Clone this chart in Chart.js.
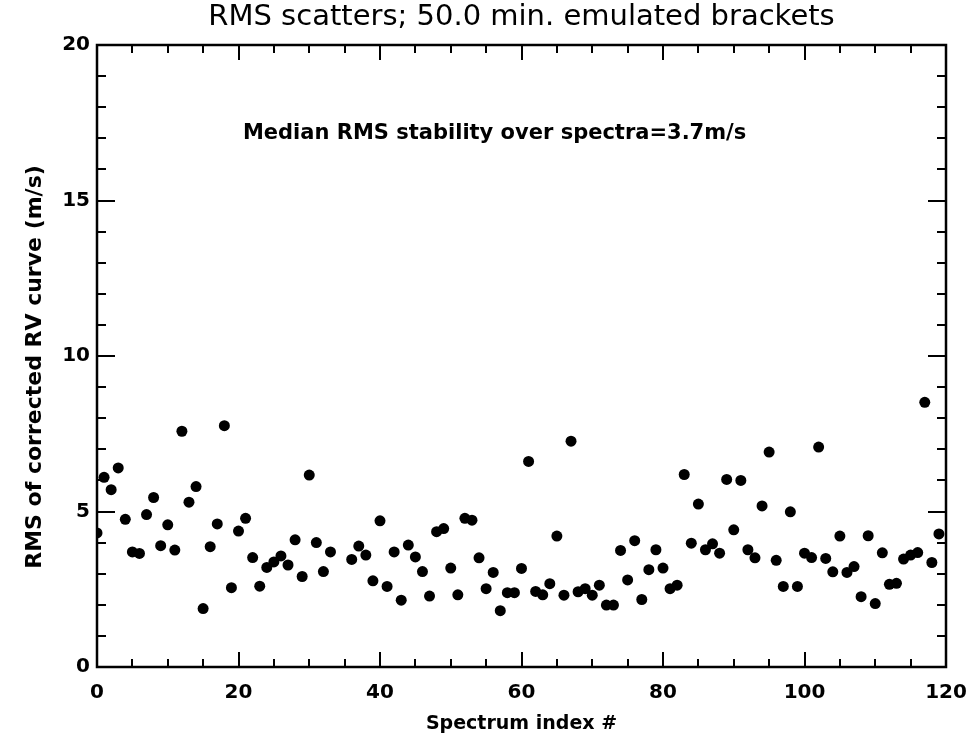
<!DOCTYPE html>
<html>
<head>
<meta charset="utf-8">
<script src="https://cdn.jsdelivr.net/npm/chart.js@4.4.1/dist/chart.umd.min.js"></script>
<style>
  html, body { margin: 0; padding: 0; background: #ffffff; }
  #wrap { width: 978px; height: 742px; }
</style>
</head>
<body>
<div id="wrap"><canvas id="c" width="978" height="742"></canvas></div>
<script>
// ---- Data ----
const titleText = "RMS scatters; 50.0 min. emulated brackets";
const xAxisTitle = "Spectrum index #";
const yAxisTitle = "RMS of corrected RV curve (m/s)";
const annotationText = "Median RMS stability over spectra=3.7m/s";
const annotationPos = [56.2, 17.15];

// RMS value per spectrum index (0..119); null = no point plotted
const rmsValues = [
  4.31, 6.10, 5.70, 6.40, 4.75, 3.70, 3.65, 4.90, 5.45, 3.90,
  4.57, 3.76, 7.58, 5.30, 5.80, 1.88, 3.87, 4.60, 7.76, 2.55,
  4.37, 4.78, 3.52, 2.60, 3.20, 3.38, 3.57, 3.28, 4.09, 2.91,
  6.17, 4.00, 3.07, 3.70, null, null, 3.46, 3.89, 3.60, 2.77,
  4.70, 2.59, 3.70, 2.15, 3.92, 3.54, 3.07, 2.28, 4.35, 4.45,
  3.18, 2.32, 4.78, 4.72, 3.51, 2.52, 3.04, 1.81, 2.39, 2.39,
  3.17, 6.61, 2.43, 2.32, 2.68, 4.21, 2.31, 7.26, 2.42, 2.52,
  2.31, 2.63, 1.99, 1.99, 3.75, 2.80, 4.06, 2.17, 3.13, 3.77,
  3.18, 2.52, 2.63, 6.19, 3.98, 5.24, 3.77, 3.96, 3.66, 6.03,
  4.41, 6.00, 3.77, 3.51, 5.18, 6.91, 3.43, 2.59, 4.99, 2.59,
  3.66, 3.52, 7.07, 3.49, 3.06, 4.21, 3.04, 3.23, 2.26, 4.22,
  2.04, 3.67, 2.66, 2.69, 3.47, 3.60, 3.68, 8.51, 3.36, 4.28
];

const xRange = [0, 120];
const yRange = [0, 20];
const xMajorTicks = [0, 20, 40, 60, 80, 100, 120];
const xMinorStep = 5;
const yMajorTicks = [0, 5, 10, 15, 20];
const yMinorStep = 1;

// ---- Build points ----
const points = [];
rmsValues.forEach((v, i) => { if (v !== null) points.push({ x: i, y: v }); });

const FONT = "'DejaVu Sans', sans-serif";

const boxAndTicks = {
  id: 'boxAndTicks',
  afterDraw(chart) {
    const { ctx, chartArea: a, scales } = chart;
    const xs = scales.x, ys = scales.y;
    ctx.save();
    ctx.strokeStyle = '#000';
    // ticks
    ctx.lineWidth = 2;
    const xMajLen = 15, xMinLen = 8, yMajLen = 18, yMinLen = 9;
    for (let v = xRange[0]; v <= xRange[1]; v += xMinorStep) {
      const px = Math.round(xs.getPixelForValue(v));
      const len = xMajorTicks.includes(v) ? xMajLen : xMinLen;
      ctx.beginPath();
      ctx.moveTo(px, a.bottom); ctx.lineTo(px, a.bottom - len);
      ctx.moveTo(px, a.top); ctx.lineTo(px, a.top + len);
      ctx.stroke();
    }
    for (let v = yRange[0]; v <= yRange[1]; v += yMinorStep) {
      const py = Math.round(ys.getPixelForValue(v));
      const len = yMajorTicks.includes(v) ? yMajLen : yMinLen;
      ctx.beginPath();
      ctx.moveTo(a.left, py); ctx.lineTo(a.left + len, py);
      ctx.moveTo(a.right, py); ctx.lineTo(a.right - len, py);
      ctx.stroke();
    }
    // box
    ctx.lineWidth = 2.5;
    ctx.strokeRect(a.left, a.top, a.right - a.left, a.bottom - a.top);
    ctx.fillStyle = '#000';
    ctx.textAlign = 'center';
    ctx.textBaseline = 'middle';
    // title
    ctx.font = "29px " + FONT;
    ctx.fillText(titleText, (a.left + a.right) / 2, 17);
    // annotation
    ctx.font = "bold 21px " + FONT;
    ctx.fillText(annotationText, xs.getPixelForValue(annotationPos[0]), ys.getPixelForValue(annotationPos[1]));
    // y axis title
    ctx.save();
    ctx.translate(35, 367);
    ctx.rotate(-Math.PI / 2);
    ctx.font = "bold 22px " + FONT;
    ctx.fillText(yAxisTitle, 0, 0);
    ctx.restore();
    ctx.restore();
  }
};

new Chart(document.getElementById('c'), {
  type: 'scatter',
  data: {
    datasets: [{
      data: points,
      pointStyle: 'circle',
      pointRadius: 5.5,
      pointHoverRadius: 5.5,
      backgroundColor: '#000',
      borderColor: '#000',
      borderWidth: 0
    }]
  },
  options: {
    responsive: false,
    animation: false,
    events: [],
    layout: { padding: { left: 0, right: 32, top: 45, bottom: 0 } },
    plugins: {
      legend: { display: false },
      tooltip: { enabled: false },
      title: { display: false }
    },
    scales: {
      x: {
        type: 'linear',
        min: xRange[0], max: xRange[1],
        afterBuildTicks(scale) { scale.ticks = xMajorTicks.map(v => ({ value: v })); },
        afterFit(scale) { scale.height = 75; scale.paddingLeft = 0; scale.paddingRight = 0; },
        grid: { display: false, drawTicks: false },
        border: { display: false },
        ticks: { color: '#000', padding: 14, font: { family: FONT, size: 20, weight: 'bold' }, maxRotation: 0 },
        title: { display: true, text: xAxisTitle, color: '#000', padding: { top: 0, bottom: 7 },
                 font: { family: FONT, size: 19, weight: 'bold' } }
      },
      y: {
        type: 'linear',
        min: yRange[0], max: yRange[1],
        afterBuildTicks(scale) { scale.ticks = yMajorTicks.map(v => ({ value: v })); },
        afterFit(scale) { scale.width = 97; scale.paddingTop = 0; scale.paddingBottom = 0; },
        grid: { display: false, drawTicks: false },
        border: { display: false },
        ticks: { color: '#000', padding: 7, font: { family: FONT, size: 20, weight: 'bold' } },
        title: { display: false }
      }
    }
  },
  plugins: [boxAndTicks]
});
</script>
</body>
</html>
